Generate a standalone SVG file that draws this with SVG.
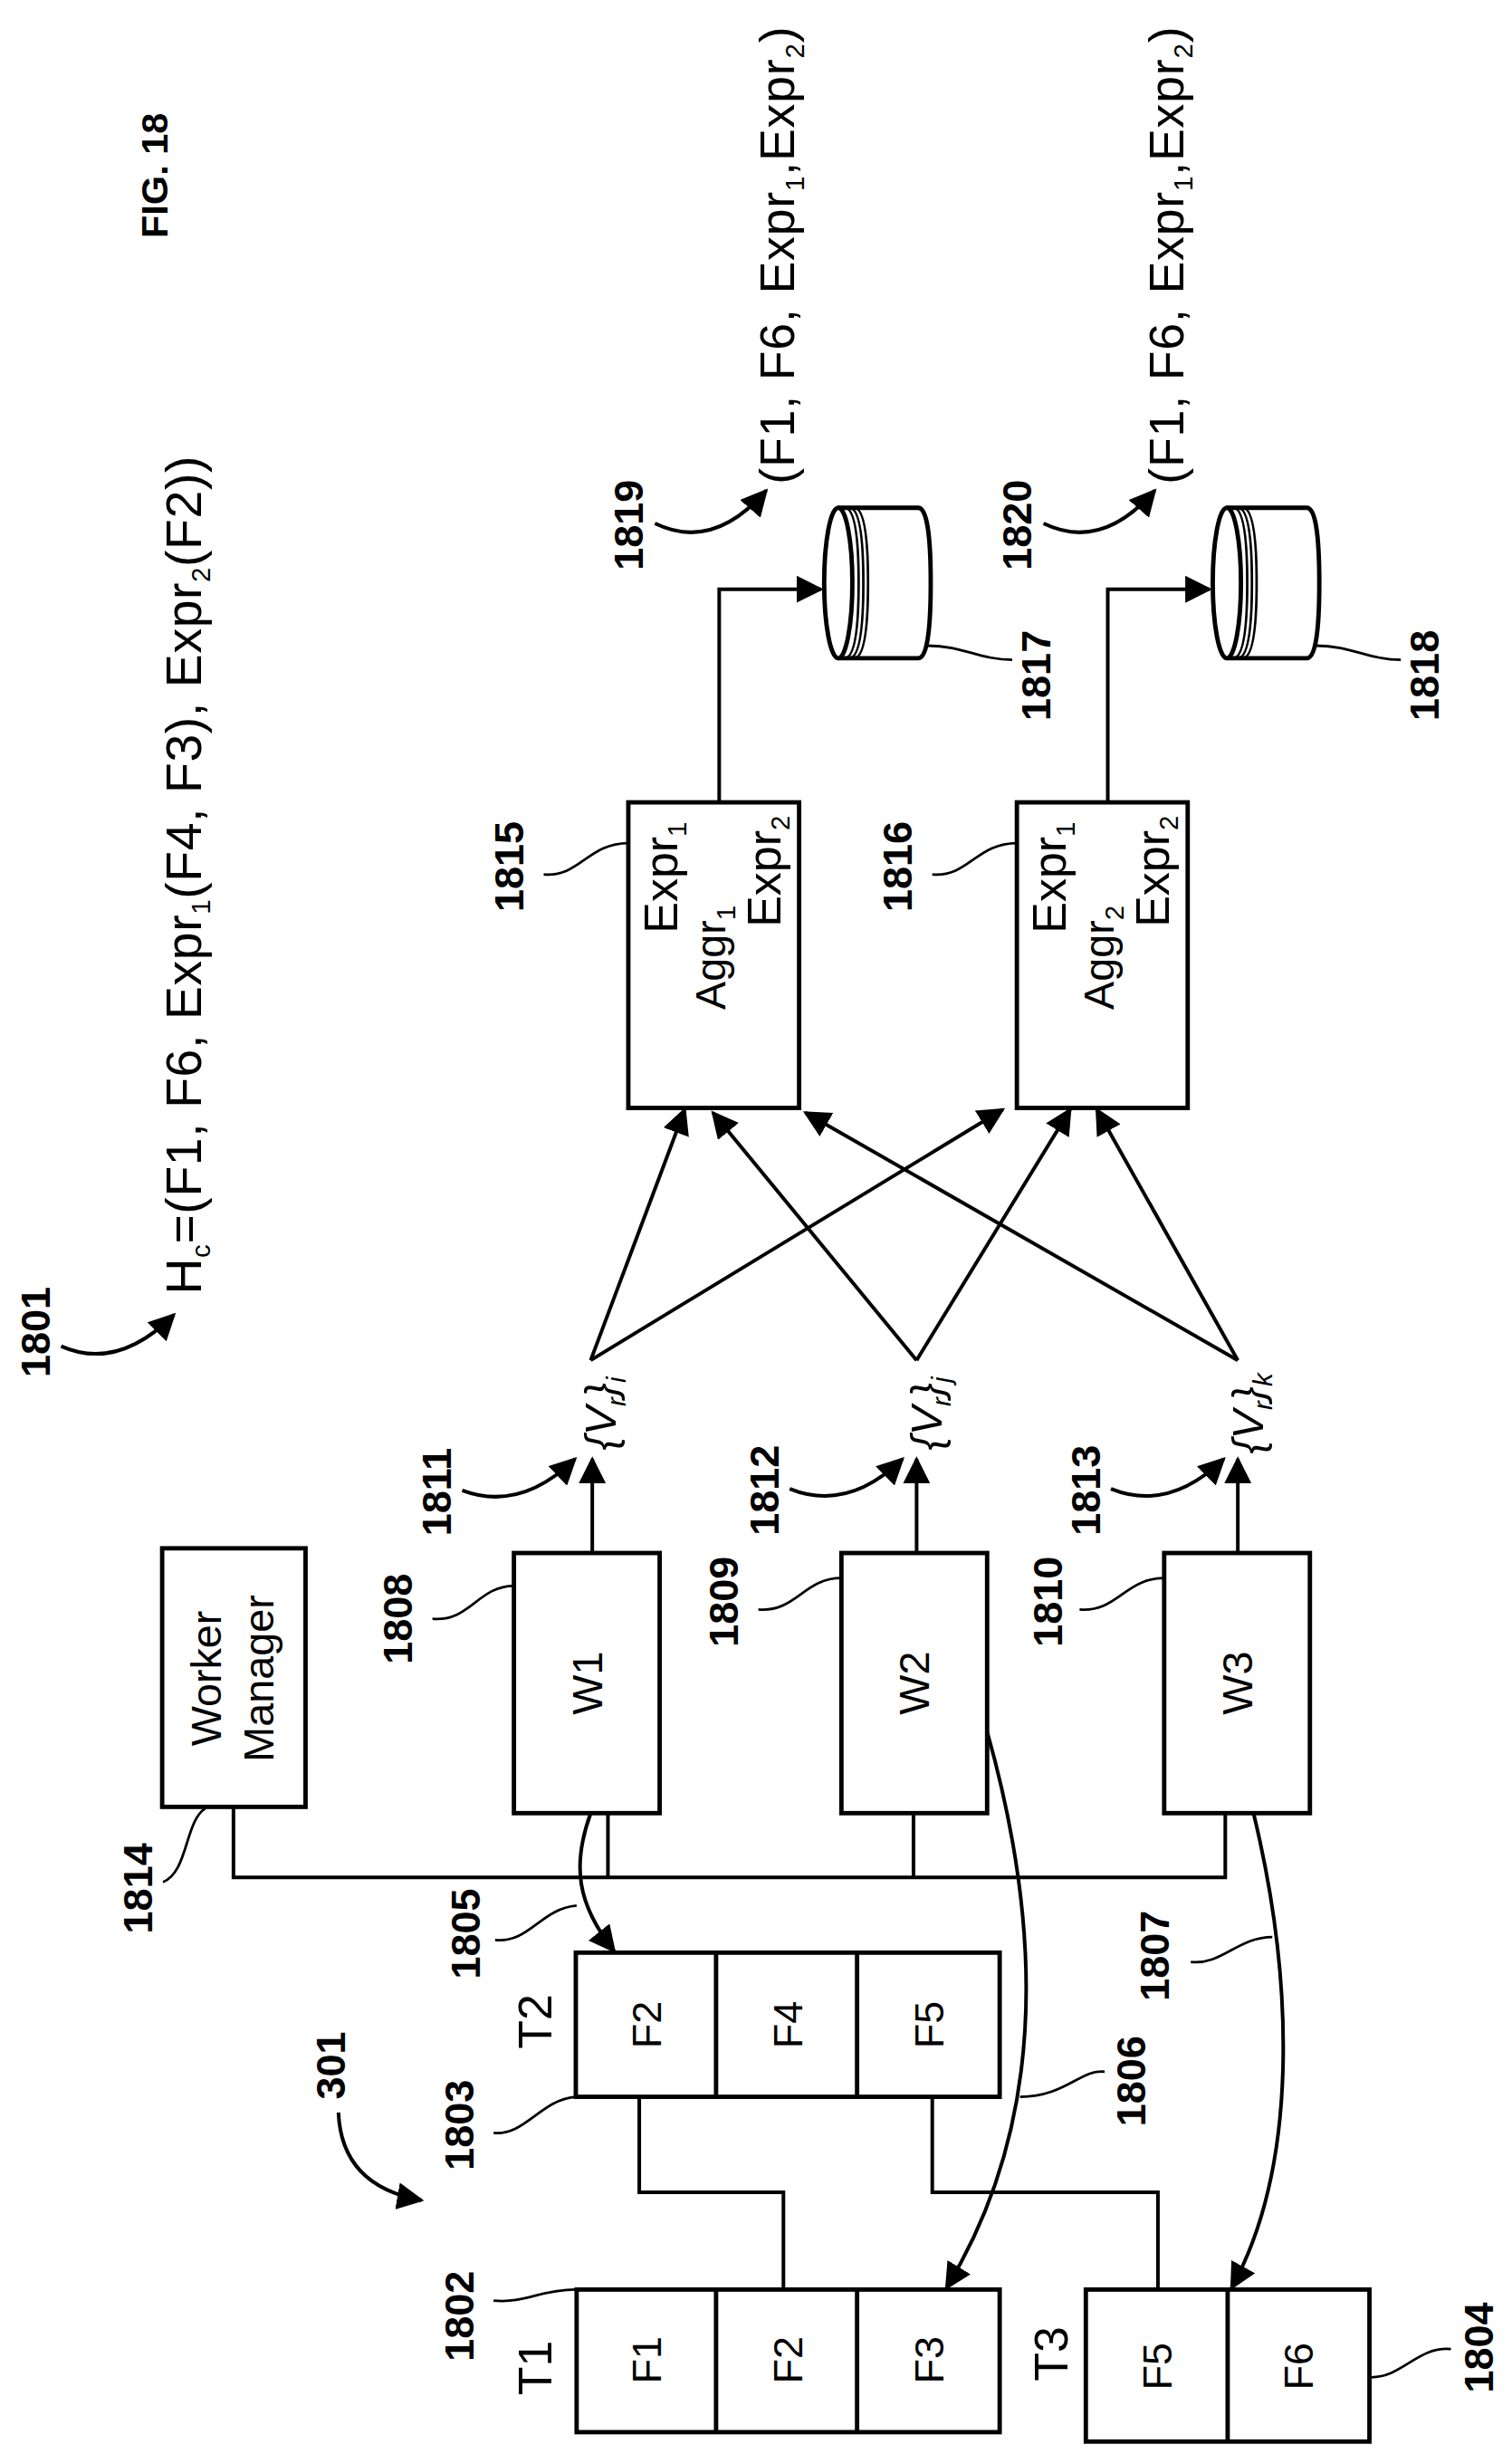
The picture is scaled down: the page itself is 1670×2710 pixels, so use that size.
<svg xmlns="http://www.w3.org/2000/svg" width="1670" height="2710" viewBox="0 0 1670 2710">
<defs>
<style>
.b{fill:#fff;stroke:#000;stroke-width:2.8}
.l{fill:none;stroke:#000;stroke-width:2.3}
.d{fill:none;stroke:#000;stroke-width:1.6}
.t{font-family:"Liberation Sans",Arial,sans-serif;font-size:26px;text-anchor:middle}
.n{font-family:"Liberation Sans",Arial,sans-serif;font-size:26px;font-weight:bold;text-anchor:middle}
.s{font-size:17px}
.v{font-family:"Liberation Sans",Arial,sans-serif;font-size:28px;font-style:italic;text-anchor:middle}
</style>
<marker id="a" viewBox="0 0 10 10" refX="9" refY="5" markerWidth="7.5" markerHeight="7.5" orient="auto" markerUnits="strokeWidth"><path d="M0,0 L10,5 L0,10 z"/></marker>
</defs>
<rect width="1670" height="2710" fill="#fff"/>
<g transform="scale(1.7306)">
<g id="connectors">
<path class="l" d="M149,1153 V1198 H782 V1157 M388,1157 V1198 M583,1157 V1198"/>
<path class="l" d="M408,1338 V1399 H500 V1461 M595,1338 V1399 H739 V1461"/>
<path class="l" marker-end="url(#a)" d="M378,991 V931"/>
<path class="l" marker-end="url(#a)" d="M585,991 V931"/>
<path class="l" marker-end="url(#a)" d="M790,991 V931"/>
<path class="l" marker-end="url(#a)" d="M377,868 L437,708"/>
<path class="l" marker-end="url(#a)" d="M377,868 L640,708"/>
<path class="l" marker-end="url(#a)" d="M585,868 L455,710"/>
<path class="l" marker-end="url(#a)" d="M585,868 L683,708"/>
<path class="l" marker-end="url(#a)" d="M790,868 L514,710"/>
<path class="l" marker-end="url(#a)" d="M790,868 L700,708"/>
<path class="l" marker-end="url(#a)" d="M459,512 V376 H524"/>
<path class="l" marker-end="url(#a)" d="M707,512 V376 H772"/>
<path class="l" marker-end="url(#a)" d="M377,1157 C365,1190 368,1215 392,1245"/>
<path class="l" marker-end="url(#a)" d="M630,1105 C668,1240 665,1360 604,1460"/>
<path class="l" marker-end="url(#a)" d="M800,1157 C825,1260 830,1380 786,1460"/>
<path class="l" marker-end="url(#a)" d="M39,859 Q75,875 111,839"/>
<path class="l" marker-end="url(#a)" d="M295,951 Q332,965 367,931"/>
<path class="l" marker-end="url(#a)" d="M504,950 Q541,965 576,931"/>
<path class="l" marker-end="url(#a)" d="M709,950 Q746,965 781,931"/>
<path class="l" marker-end="url(#a)" d="M418,334 Q455,352 489,313"/>
<path class="l" marker-end="url(#a)" d="M666,334 Q703,352 737,313"/>
<path class="l" marker-end="url(#a)" d="M216,1348 Q218,1395 269,1404"/>
<path class="d" d="M276,1033 C300,1035 305,1012 328,1012 M484,1027 C508,1029 513,1007 537,1007 M689,1027 C713,1029 718,1007 743,1007 M104,1201 C120,1195 118,1162 131,1154 M316,1238 C338,1240 345,1218 368,1216 M315,1361 C335,1363 345,1340 367,1338 M315,1468 C335,1470 345,1461 367,1461 M705,1322 C690,1320 680,1338 651,1338 M760,1252 C780,1254 790,1236 812,1236 M926,1499 C905,1497 895,1517 875,1517 M347,558 C370,560 375,538 401,538 M595,558 C618,560 623,538 649,538 M646,421 C625,421 615,412 592,412 M894,421 C873,421 863,412 840,412"/>
</g>
<g id="T1"><rect class="b" x="368" y="1461" width="270" height="91"/><path class="b" d="M457,1461 V1552 M547,1461 V1552"/>
<text class="t" transform="translate(422,1506) rotate(-90)">F1</text><text class="t" transform="translate(512,1506) rotate(-90)">F2</text><text class="t" transform="translate(602,1506) rotate(-90)">F3</text>
<text class="t" style="font-size:30px" transform="translate(352,1511) rotate(-90)">T1</text></g>
<g id="T3"><rect class="b" x="693" y="1461" width="181" height="97"/><path class="b" d="M783.5,1461 V1558"/>
<text class="t" transform="translate(748,1510) rotate(-90)">F5</text><text class="t" transform="translate(838,1510) rotate(-90)">F6</text>
<text class="t" style="font-size:30px" transform="translate(681,1502) rotate(-90)">T3</text></g>
<g id="T2"><rect class="b" x="367.5" y="1246" width="270.5" height="92"/><path class="b" d="M457,1246 V1338 M547,1246 V1338"/>
<text class="t" transform="translate(422,1292) rotate(-90)">F2</text><text class="t" transform="translate(512,1292) rotate(-90)">F4</text><text class="t" transform="translate(602,1292) rotate(-90)">F5</text>
<text class="t" style="font-size:30px" transform="translate(352,1290) rotate(-90)">T2</text></g>
<g id="WM"><rect class="b" x="103.5" y="988" width="91.5" height="165"/>
<text class="t" style="font-size:27px" transform="translate(141,1071) rotate(-90)">Worker</text><text class="t" style="font-size:27px" transform="translate(174.6,1071) rotate(-90)">Manager</text></g>
<g id="W1"><rect class="b" x="328" y="991" width="93" height="166"/><text class="t" style="font-size:27px" transform="translate(384,1074) rotate(-90)">W1</text></g>
<g id="W2"><rect class="b" x="537" y="991" width="93" height="166"/><text class="t" style="font-size:27px" transform="translate(593,1074) rotate(-90)">W2</text></g>
<g id="W3"><rect class="b" x="743" y="991" width="93" height="166"/><text class="t" style="font-size:27px" transform="translate(799,1074) rotate(-90)">W3</text></g>
<g id="V"><text class="v" transform="translate(393,902) rotate(-90)">{V<tspan class="s" dy="6">r</tspan><tspan dy="-6">}</tspan><tspan class="s" dy="6">i</tspan></text>
<text class="v" transform="translate(601,902) rotate(-90)">{V<tspan class="s" dy="6">r</tspan><tspan dy="-6">}</tspan><tspan class="s" dy="6">j</tspan></text>
<text class="v" transform="translate(806,902) rotate(-90)">{V<tspan class="s" dy="6">r</tspan><tspan dy="-6">}</tspan><tspan class="s" dy="6">k</tspan></text></g>
<g id="A1815"><rect class="b" x="401" y="512" width="109" height="195"/>
<text class="t" style="font-size:30px" transform="translate(432,560) rotate(-90)">Expr<tspan class="s" dy="6">1</tspan></text>
<text class="t" style="font-size:27px" transform="translate(463,611) rotate(-90)">Aggr<tspan class="s" dy="6">1</tspan></text>
<text class="t" style="font-size:30px" transform="translate(498,556) rotate(-90)">Expr<tspan class="s" dy="6">2</tspan></text></g>
<g id="A1816"><rect class="b" x="649" y="512" width="109" height="195"/>
<text class="t" style="font-size:30px" transform="translate(680,560) rotate(-90)">Expr<tspan class="s" dy="6">1</tspan></text>
<text class="t" style="font-size:27px" transform="translate(711,611) rotate(-90)">Aggr<tspan class="s" dy="6">2</tspan></text>
<text class="t" style="font-size:30px" transform="translate(746,556) rotate(-90)">Expr<tspan class="s" dy="6">2</tspan></text></g>
<g id="C1817"><path class="b" d="M535,324 H586 Q594,324 594,372 Q594,420 586,420 H535"/><ellipse class="b" cx="535" cy="372" rx="9" ry="48"/><path class="d" d="M539,324 Q548,324 548,372 Q548,420 539,420 M542,324 Q551,324 551,372 Q551,420 542,420 M545,324 Q554,324 554,372 Q554,420 545,420"/></g>
<g id="C1818"><path class="b" d="M783,324 H834 Q842,324 842,372 Q842,420 834,420 H783"/><ellipse class="b" cx="783" cy="372" rx="9" ry="48"/><path class="d" d="M787,324 Q796,324 796,372 Q796,420 787,420 M790,324 Q799,324 799,372 Q799,420 790,420 M793,324 Q802,324 802,372 Q802,420 793,420"/></g>
<g id="texts">
<text class="t" style="font-size:31px;text-anchor:start" textLength="292" transform="translate(507,309) rotate(-90)">(F1, F6, Expr<tspan class="s" dy="6">1</tspan><tspan dy="-6">,Expr</tspan><tspan class="s" dy="6">2</tspan><tspan dy="-6">)</tspan></text>
<text class="t" style="font-size:31px;text-anchor:start" textLength="292" transform="translate(755,309) rotate(-90)">(F1, F6, Expr<tspan class="s" dy="6">1</tspan><tspan dy="-6">,Expr</tspan><tspan class="s" dy="6">2</tspan><tspan dy="-6">)</tspan></text>
<text class="t" style="font-size:32px;text-anchor:start" textLength="535" transform="translate(128,826) rotate(-90)">H<tspan class="s" dy="6">c</tspan><tspan dy="-6">=(F1, F6, Expr</tspan><tspan class="s" dy="6">1</tspan><tspan dy="-6">(F4, F3), Expr</tspan><tspan class="s" dy="6">2</tspan><tspan dy="-6">(F2))</tspan></text>
<text class="n" style="font-size:24px" transform="translate(107,112) rotate(-90)">FIG. 18</text>
<text class="n" transform="translate(32,850) rotate(-90)">1801</text>
<text class="n" transform="translate(410,335) rotate(-90)">1819</text>
<text class="n" transform="translate(658,335) rotate(-90)">1820</text>
<text class="n" transform="translate(670,431) rotate(-90)">1817</text>
<text class="n" transform="translate(918,431) rotate(-90)">1818</text>
<text class="n" transform="translate(334,553) rotate(-90)">1815</text>
<text class="n" transform="translate(582,553) rotate(-90)">1816</text>
<text class="n" transform="translate(263,1033) rotate(-90)">1808</text>
<text class="n" transform="translate(471,1022) rotate(-90)">1809</text>
<text class="n" transform="translate(678,1022) rotate(-90)">1810</text>
<text class="n" transform="translate(288,952) rotate(-90)">1811</text>
<text class="n" transform="translate(497,951) rotate(-90)">1812</text>
<text class="n" transform="translate(702,951) rotate(-90)">1813</text>
<text class="n" transform="translate(97,1205) rotate(-90)">1814</text>
<text class="n" transform="translate(306,1234) rotate(-90)">1805</text>
<text class="n" transform="translate(746,1248) rotate(-90)">1807</text>
<text class="n" transform="translate(731,1328) rotate(-90)">1806</text>
<text class="n" transform="translate(220,1318) rotate(-90)">301</text>
<text class="n" transform="translate(302,1356) rotate(-90)">1803</text>
<text class="n" transform="translate(302,1478) rotate(-90)">1802</text>
<text class="n" transform="translate(953,1498) rotate(-90)">1804</text>
</g>
</g>
</svg>
